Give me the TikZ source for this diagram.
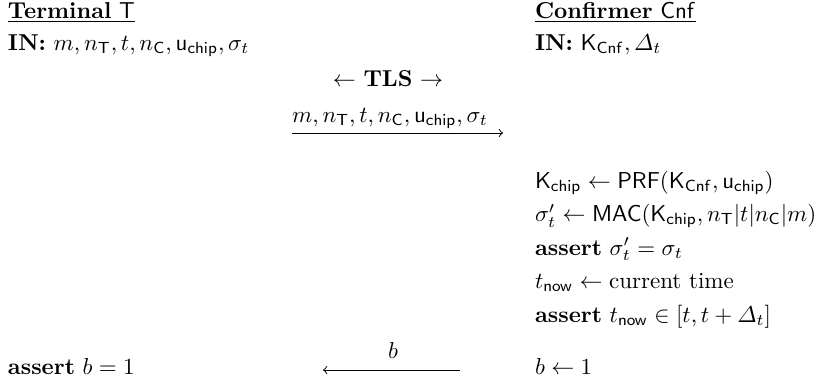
\documentclass[tikz,border=0pt]{standalone}
\usepackage{amsmath}
\begin{document}
\begin{tikzpicture}[x=0.4348pt,y=-0.4348pt,
  txt/.style={anchor=base west,inner sep=0pt,outer sep=0pt},
  ctr/.style={anchor=base,inner sep=0pt,outer sep=0pt},
  msg/.style={->,line width=0.4pt}]
\useasboundingbox (0,0) rectangle (817,386);
% headers
\node[txt] (th) at (8,18) {\underline{\textbf{Terminal} $\mathsf{T}$}};
\node[txt] (tin) at (8,50) {\textbf{IN:} $m, n_{\mathsf{T}}, t, n_{\mathsf{C}}, \mathsf{u}_{\mathsf{chip}}, \sigma_t$};
\node[txt] (ch) at (535,18) {\underline{\textbf{Confirmer} $\mathsf{Cnf}$}};
\node[txt] (cin) at (535,50) {\textbf{IN:} $\mathsf{K}_{\mathsf{Cnf}}, \varDelta_t$};
% TLS
\node[ctr] (tls) at (388,86) {$\gets$ \textbf{TLS} $\to$};
% message 1
\node[ctr] (l1) at (390,122) {$m, n_{\mathsf{T}}, t, n_{\mathsf{C}}, \mathsf{u}_{\mathsf{chip}}, \sigma_t$};
\coordinate (a1s) at (292,133);
\coordinate (a1e) at (503,133);
\draw[msg] (a1s) -- (a1e);
% confirmer steps
\node[txt] (r1) at (535,188) {$\mathsf{K}_{\mathsf{chip}} \gets \mathsf{PRF}(\mathsf{K}_{\mathsf{Cnf}}, \mathsf{u}_{\mathsf{chip}})$};
\node[txt] (r2) at (535,221.5) {$\sigma'_t \gets \mathsf{MAC}(\mathsf{K}_{\mathsf{chip}}, n_{\mathsf{T}}|t|n_{\mathsf{C}}|m)$};
\node[txt] (r3) at (535,255) {\textbf{assert} $\sigma'_t = \sigma_t$};
\node[txt] (r4) at (535,288.5) {$t_{\mathsf{now}} \gets \text{current time}$};
\node[txt] (r5) at (535,322) {\textbf{assert} $t_{\mathsf{now}} \in [t, t+\varDelta_t]$};
\node[txt] (r6) at (535,374) {$b \gets 1$};
% message 2
\node[ctr] (l2) at (393,358) {$b$};
\coordinate (a2s) at (460,370);
\coordinate (a2e) at (323,370);
\draw[msg] (a2s) -- (a2e);
\node[txt] (tb) at (8,374) {\textbf{assert} $b = 1$};
\end{tikzpicture}
\end{document}
